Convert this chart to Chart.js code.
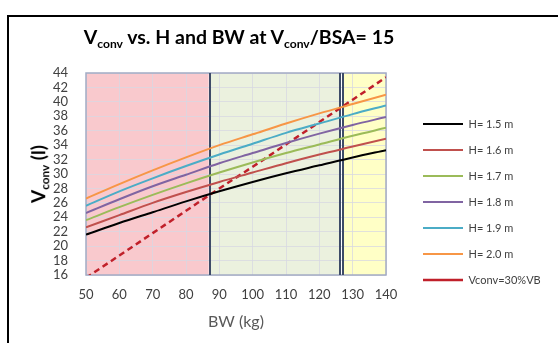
<!DOCTYPE html>
<html>
<head>
<meta charset="utf-8">
<script src="https://cdn.jsdelivr.net/npm/chart.js@4/dist/chart.umd.min.js"></script>
<style>
  html, body { margin: 0; padding: 0; background: #fff; overflow: hidden; }
  #wrap { position: relative; width: 558px; height: 343px; }
  #frame { position: absolute; left: 7px; top: 15px; width: 560px; height: 400px; border: 2px solid #000; box-sizing: border-box; }
  #chart { position: absolute; left: 0; top: 0; }
  #title { position: absolute; left: 0; top: 25px; width: 478px; text-align: center; font-family: Lato, sans-serif; font-weight: bold; font-size: 19.5px; color: #000; white-space: nowrap; }
  #ytitle { position: absolute; left: 39px; top: 174px; transform: translate(-50%, -50%) rotate(-90deg); font-family: Lato, sans-serif; font-weight: bold; font-size: 19px; color: #000; white-space: nowrap; }
  sub { font-size: 62%; vertical-align: -0.3em; }
</style>
</head>
<body>
<div id="wrap">
  <div id="frame"></div>
  <canvas id="chart" width="558" height="343"></canvas>
  <div id="title">V<sub>conv</sub> vs. H and BW at V<sub>conv</sub>/BSA= 15</div>
  <div id="ytitle">V<sub>conv</sub> (l)</div>
</div>
<script>
// datos
const bw = [50, 60, 70, 80, 90, 100, 110, 120, 130, 140];
const h15 = [21.6, 23.2, 24.7, 26.2, 27.6, 28.9, 30.1, 31.2, 32.3, 33.3];
const h16 = [22.6, 24.3, 26.0, 27.5, 28.9, 30.2, 31.5, 32.7, 33.8, 34.9];
const h17 = [23.6, 25.4, 27.1, 28.7, 30.2, 31.6, 32.9, 34.1, 35.3, 36.4];
const h18 = [24.6, 26.5, 28.3, 29.9, 31.5, 32.9, 34.3, 35.6, 36.8, 37.9];
const h19 = [25.6, 27.6, 29.4, 31.1, 32.7, 34.2, 35.7, 37.0, 38.3, 39.5];
const h20 = [26.6, 28.6, 30.5, 32.3, 34.0, 35.5, 37.0, 38.4, 39.7, 41.0];
const vconv30 = [15.6, 18.7, 21.8, 24.9, 28.0, 31.0, 34.1, 37.2, 40.3, 43.4];
const seriesLabels = ['H= 1.5 m', 'H= 1.6 m', 'H= 1.7 m', 'H= 1.8 m', 'H= 1.9 m', 'H= 2.0 m', 'Vconv=30%VB'];

// zonas de fondo (BW)
const zoneStart = [50, 87.2, 127.0];
const zoneEnd = [86.8, 126.3, 140];

const zoneColors = ['#F9C9CD', '#EBF1DE', '#FFFFC6'];
const lineColors = ['#000000', '#C0504D', '#9BBB59', '#8064A2', '#4BACC6', '#F79646', '#C0202A'];

const toXY = vals => vals.map((v, i) => ({ x: bw[i], y: v }));

// plugin para las zonas de color
const zonesPlugin = {
  id: 'zones',
  beforeDraw(chart) {
    const { ctx, chartArea, scales } = chart;
    ctx.save();
    zoneStart.forEach((s, i) => {
      const x0 = scales.x.getPixelForValue(s);
      const x1 = scales.x.getPixelForValue(zoneEnd[i]);
      ctx.fillStyle = zoneColors[i];
      ctx.fillRect(x0, chartArea.top, x1 - x0, chartArea.bottom - chartArea.top);
    });
    ctx.restore();
  },
  beforeDatasetsDraw(chart) {
    const { ctx, chartArea, scales } = chart;
    ctx.save();
    ctx.strokeStyle = '#A3ABC4';
    ctx.lineWidth = 1.5;
    ctx.strokeRect(chartArea.left, chartArea.top, chartArea.right - chartArea.left, chartArea.bottom - chartArea.top);
    ctx.strokeStyle = '#3E4C68';
    ctx.lineWidth = 2;
    [zoneStart[1], zoneEnd[1], zoneStart[2]].forEach(v => {
      const x = Math.round(scales.x.getPixelForValue(v));
      ctx.beginPath();
      ctx.moveTo(x, chartArea.top);
      ctx.lineTo(x, chartArea.bottom);
      ctx.stroke();
    });
    ctx.restore();
  }
};

const allSeries = [h15, h16, h17, h18, h19, h20, vconv30];
const datasets = allSeries.map((vals, i) => ({
  label: seriesLabels[i],
  data: toXY(vals),
  borderColor: lineColors[i],
  backgroundColor: lineColors[i],
  borderWidth: i === 6 ? 2.5 : 2,
  borderDash: i === 6 ? [6, 4] : [],
  pointRadius: 0,
  cubicInterpolationMode: 'monotone',
  fill: false
}));

const tickFont = { family: 'Lato', size: 13 };

new Chart(document.getElementById('chart'), {
  type: 'line',
  data: { datasets },
  plugins: [zonesPlugin],
  options: {
    responsive: false,
    animation: false,
    devicePixelRatio: 1,
    layout: { padding: { top: 73, bottom: 12, left: 0, right: 14 } },
    plugins: {
      title: { display: false },
      tooltip: { enabled: false },
      legend: {
        position: 'right',
        align: 'center',
        labels: {
          usePointStyle: true,
          pointStyle: 'line',
          pointStyleWidth: 40,
          boxHeight: 11,
          padding: 15,
          color: '#404040',
          font: { family: 'Lato', size: 11 }
        }
      }
    },
    scales: {
      x: {
        type: 'linear',
        min: 50,
        max: 140,
        afterFit: s => { s.height = 343 - 12 - 275; },
        ticks: { stepSize: 10, padding: 12, color: '#404040', font: tickFont },
        grid: { color: 'rgba(215,215,225,0.75)', drawTicks: false },
        border: { display: false },
        title: { display: true, text: 'BW (kg)', color: '#595959', font: { family: 'Lato', size: 16 }, padding: { top: 0, bottom: 0 } }
      },
      y: {
        min: 16,
        max: 44,
        afterFit: s => { s.width = 86; },
        ticks: { stepSize: 2, autoSkip: false, padding: 18, color: '#404040', font: tickFont },
        grid: { color: 'rgba(215,215,225,0.75)', drawTicks: false },
        border: { display: false }
      },
      // hueco entre el área y la leyenda
      y2: {
        position: 'right',
        display: false,
        afterFit: s => { s.width = 22; }
      }
    }
  }
});
</script>
</body>
</html>
